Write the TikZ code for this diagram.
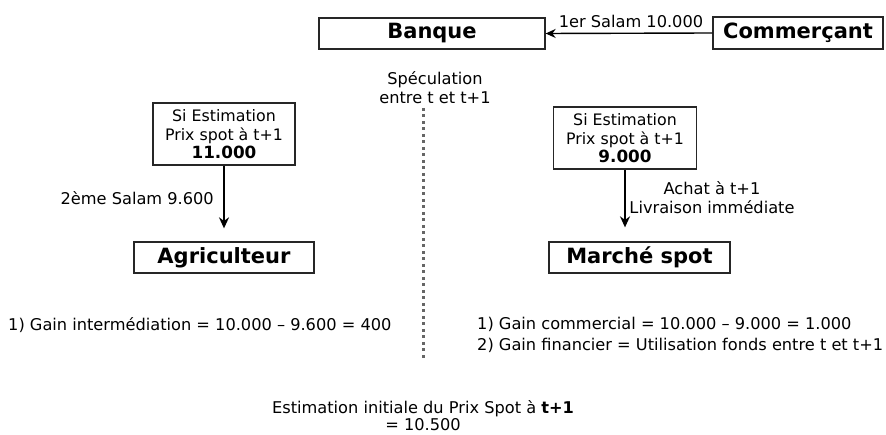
\documentclass[tikz,border=0pt]{standalone}
\usepackage{fontspec}
\setmainfont{DejaVu Sans}
\usetikzlibrary{arrows.meta}
\begin{document}
\begin{tikzpicture}[x=1pt,y=-1pt,
  txt/.style={font=\fontsize{16.2}{19.5}\selectfont, inner sep=0pt},
  party/.style={draw=black!85, line width=1.3pt, rectangle, inner sep=0pt,
    font=\fontsize{21}{24}\selectfont\bfseries},
  estim/.style={draw=black!85, line width=1.3pt, rectangle, inner sep=0pt, align=center,
    font=\fontsize{15.8}{19}\selectfont},
  flow/.style={line width=1.8pt, -{Stealth[length=11pt,width=10pt]}}]
\useasboundingbox (0,0) rectangle (886,435);

% parties
\node[party, minimum width=226pt, minimum height=31pt] (banque) at (432,33.5) {Banque};
\node[party, minimum width=170pt, minimum height=32pt] (comm) at (798,33) {Commerçant};
\node[party, minimum width=180pt, minimum height=31pt] (agri) at (224,257.5) {Agriculteur};
\node[party, minimum width=181pt, minimum height=31pt] (spot) at (639.5,257.5) {Marché spot};

% price scenarios
\node[estim, minimum width=142pt, minimum height=62pt] (lbox) at (224,134)
  {Si Estimation\\Prix spot à t+1\\[-1pt]{\fontsize{16.8}{19}\selectfont\bfseries 11.000}};
\node[estim, minimum width=143pt, minimum height=62pt] (rbox) at (625,138)
  {Si Estimation\\Prix spot à t+1\\[-1pt]{\fontsize{16.8}{19}\selectfont\bfseries 9.000}};

% flows
\draw[flow, line width=1.4pt, -{Stealth[length=10pt,width=9pt]}] (comm.west) -- (banque.east);
\node[txt] (salam1) at (631,21) {1er Salam 10.000};
\draw[flow, shorten >=13pt] (lbox.south) -- (lbox.south |- agri.north);
\draw[flow, shorten >=14pt] (rbox.south) -- (rbox.south |- spot.north);
\node[txt, anchor=east] (salam2) at (214,198) {2ème Salam 9.600};
\node[txt, align=center] (achat) at (712,197.5) {Achat à t+1\\Livraison immédiate};

% speculation split
\node[txt, align=center] (spec) at (435,87.5) {Spéculation\\entre t et t+1};
\coordinate (divtop) at (423,108);
\coordinate (divbot) at (423,361);
\draw[black!60, line width=3pt, dash pattern=on 3pt off 3.5pt] (divtop) -- (divbot);

% gains
\node[txt, anchor=west] (gainl) at (8,325) {1) Gain intermédiation = 10.000 – 9.600 = 400};
\node[txt, anchor=west, align=left, font=\fontsize{16.2}{21}\selectfont] (gainr) at (477,334.5)
  {1) Gain commercial = 10.000 – 9.000 = 1.000\\2) Gain financier = Utilisation fonds entre t et t+1};

% initial estimate
\node[txt, align=center, font=\fontsize{16.2}{17}\selectfont] (init) at (423,416)
  {Estimation initiale du Prix Spot à \textbf{t+1}\\= 10.500};
\end{tikzpicture}
\end{document}
